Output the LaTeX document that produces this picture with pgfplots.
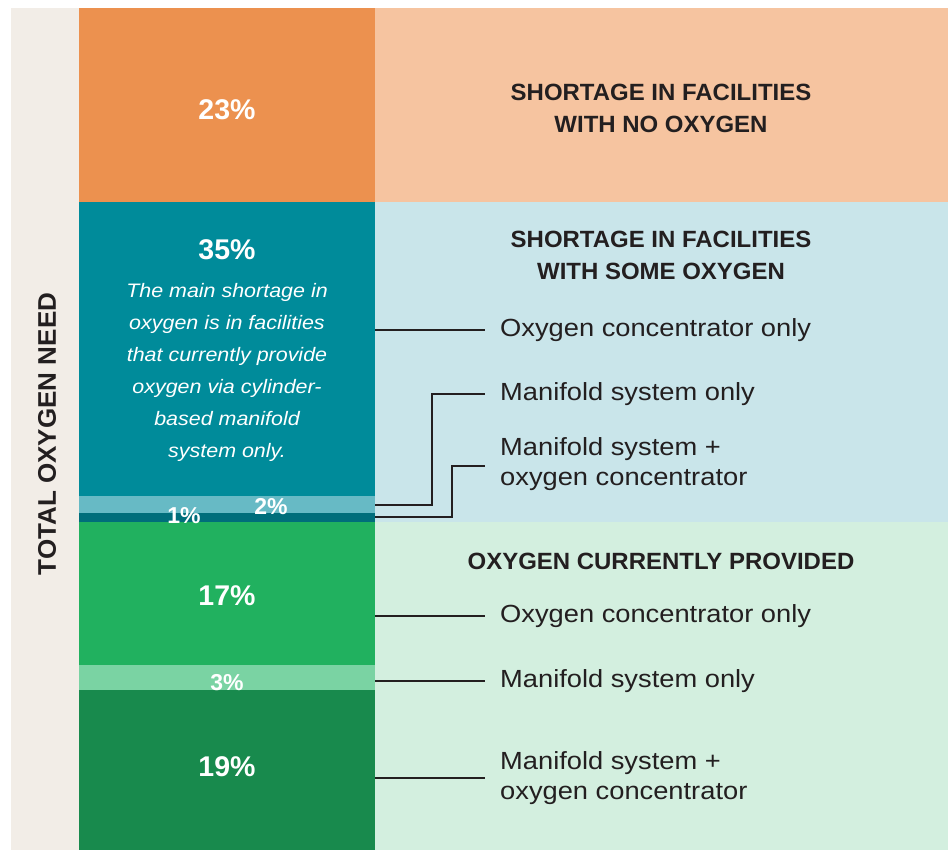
\documentclass[border=0pt]{standalone}
\usepackage{pgfplots}
\pgfplotsset{compat=1.18}
\usepackage{fontspec}
\setmainfont{Liberation Sans}
\newfontfamily\labfont[FakeStretch=1.1]{Liberation Sans}
\newfontfamily\headfont[FakeStretch=1.02]{Liberation Sans}
\definecolor{corange}{HTML}{EC914F}
\definecolor{cteal}{HTML}{008B9A}
\definecolor{cltteal}{HTML}{67BAC5}
\definecolor{cdkteal}{HTML}{006E7B}
\definecolor{cgreen}{HTML}{21B15F}
\definecolor{cltgreen}{HTML}{7AD3A3}
\definecolor{cdkgreen}{HTML}{188A4D}
\definecolor{bgorange}{HTML}{F6C4A0}
\definecolor{bgblue}{HTML}{C9E5EA}
\definecolor{bggreen}{HTML}{D3EFDF}
\definecolor{bgbeige}{HTML}{F2EDE7}
\definecolor{ink}{HTML}{231F20}
\begin{document}
\begin{tikzpicture}[x=1pt,y=1pt]
% backgrounds (1 unit = 1 px; y up from bottom)
\fill[white] (0,0) rectangle (948,850);
\fill[bgbeige] (11,0) rectangle (79,842);
\fill[bgorange] (375,648.34) rectangle (948,842);
\fill[bgblue] (375,328.38) rectangle (948,648.34);
\fill[bggreen] (375,0) rectangle (948,328.38);
\begin{axis}[at={(0,0)}, anchor=south west,
  width=948pt, height=850pt, scale only axis,
  xmin=0, xmax=948, ymin=0, ymax=100.95012,
  hide axis, clip=false,
  ybar stacked, bar width=296]
\addplot[fill=cdkgreen, draw=none] coordinates {(227,19)};
\addplot[fill=cltgreen, draw=none] coordinates {(227,3)};
\addplot[fill=cgreen, draw=none] coordinates {(227,17)};
\addplot[fill=cdkteal, draw=none] coordinates {(227,1)};
\addplot[fill=cltteal, draw=none] coordinates {(227,2)};
\addplot[fill=cteal, draw=none] coordinates {(227,35)};
\addplot[fill=corange, draw=none] coordinates {(227,23)};
\end{axis}
% left title
\node[rotate=90, text=ink, font=\headfont\bfseries\fontsize{25.5}{30}\selectfont] at (47,416) {TOTAL OXYGEN NEED};
% percentage labels
\begin{scope}[every node/.style={text=white, font=\bfseries\fontsize{28.5}{32}\selectfont}]
\node at (227,740) {23\%};
\node at (227,600) {35\%};
\node at (227,254) {17\%};
\node at (227,83) {19\%};
\end{scope}
\begin{scope}[every node/.style={text=white, font=\bfseries\fontsize{23}{26}\selectfont}]
\node at (271,343) {2\%};
\node at (184,334) {1\%};
\node at (227,167) {3\%};
\end{scope}
\node[text=white, align=center, font=\labfont\itshape\fontsize{19.5}{32}\selectfont] at (227,478)
 {The main shortage in\\oxygen is in facilities\\that currently provide\\oxygen via cylinder-\\based manifold\\system only.};
% headings
\begin{scope}[every node/.style={text=ink, align=center, font=\headfont\bfseries\fontsize{23.5}{32}\selectfont}]
\node at (661,742) {SHORTAGE IN FACILITIES\\WITH NO OXYGEN};
\node at (661,595) {SHORTAGE IN FACILITIES\\WITH SOME OXYGEN};
\node at (661,289) {OXYGEN CURRENTLY PROVIDED};
\end{scope}
% connectors
\begin{scope}[draw=ink, line width=1.8pt]
\draw (375,520) -- (485,520);
\draw (375,345.2) -- (432,345.2) -- (432,456) -- (485,456);
\draw (375,332.6) -- (452,332.6) -- (452,384) -- (485,384);
\draw (375,234) -- (485,234);
\draw (375,169) -- (485,169);
\draw (375,72) -- (485,72);
\end{scope}
% labels
\begin{scope}[every node/.style={text=ink, anchor=west, align=left, inner sep=0pt, font=\labfont\fontsize{24.8}{30}\selectfont}]
\node at (500,520) {Oxygen concentrator only};
\node at (500,456) {Manifold system only};
\node at (500,386) {Manifold system +\\oxygen concentrator};
\node at (500,234) {Oxygen concentrator only};
\node at (500,169) {Manifold system only};
\node at (500,72) {Manifold system +\\oxygen concentrator};
\end{scope}
\end{tikzpicture}
\end{document}
